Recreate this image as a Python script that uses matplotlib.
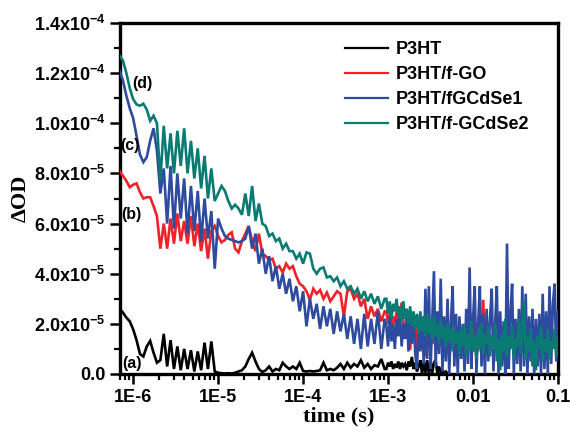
import numpy as np
import matplotlib
matplotlib.use("Agg")
import matplotlib.pyplot as plt
from matplotlib.ticker import FixedLocator, FixedFormatter, LogLocator, NullFormatter

plt.rcParams['font.family'] = ['Liberation Sans', 'DejaVu Sans']
plt.rcParams['mathtext.fontset'] = 'custom'
plt.rcParams['mathtext.rm'] = 'Liberation Sans:bold'
plt.rcParams['mathtext.bf'] = 'Liberation Sans:bold'

# sampling times, log10(t / s)
log_time = [
    -6.16, -6.12, -6.08, -6.04, -6.00, -5.96, -5.92, -5.88, -5.84, -5.80,
    -5.76, -5.72, -5.68, -5.64, -5.60, -5.56, -5.52, -5.48, -5.44, -5.40,
    -5.36, -5.32, -5.28, -5.24, -5.20, -5.16, -5.12, -5.08, -5.04, -5.00,
    -4.96, -4.92, -4.88, -4.84, -4.80, -4.76, -4.72, -4.68, -4.64, -4.60,
    -4.56, -4.52, -4.48, -4.44, -4.40, -4.36, -4.32, -4.28, -4.24, -4.20,
    -4.16, -4.12, -4.08, -4.04, -4.00, -3.96, -3.92, -3.88, -3.84, -3.80,
    -3.76, -3.72, -3.68, -3.64, -3.60, -3.56, -3.52, -3.48, -3.44, -3.40,
    -3.36, -3.32, -3.28, -3.24, -3.20, -3.16, -3.12, -3.08, -3.04,
    -3.02, -3.00, -2.98, -2.96, -2.94, -2.92, -2.90, -2.88, -2.86, -2.84,
    -2.82, -2.80, -2.78, -2.76, -2.74, -2.72, -2.70, -2.68, -2.66, -2.64,
    -2.62, -2.60, -2.58, -2.56, -2.54, -2.52, -2.50, -2.48, -2.46, -2.44,
    -2.42, -2.40, -2.38, -2.36, -2.34, -2.32, -2.30, -2.28, -2.26, -2.24,
    -2.22, -2.20, -2.18, -2.16, -2.14, -2.12, -2.10, -2.08, -2.06, -2.04,
    -2.02, -2.00, -1.98, -1.96, -1.94, -1.92, -1.90, -1.88, -1.86, -1.84,
    -1.82, -1.80, -1.78, -1.76, -1.74, -1.72, -1.70, -1.68, -1.66, -1.64,
    -1.62, -1.60, -1.58, -1.56, -1.54, -1.52, -1.50, -1.48, -1.46, -1.44,
    -1.42, -1.40, -1.38, -1.36, -1.34, -1.32, -1.30, -1.28, -1.26, -1.24,
    -1.22, -1.20, -1.18, -1.16, -1.14, -1.12, -1.10, -1.08, -1.06, -1.04,
    -1.02, -1.00,
]

# Delta OD in units of 1e-5
od_p3ht = [
    2.6, 2.45, 2.25, 2.1, 1.78, 1.35, 0.8, 0.7, 1.1, 1.32,
    0.85, 0.45, 0.55, 1.6, 0.3, 1.35, 0.2, 1.1, 0.15, 1.0,
    0.2, 0.95, 0.1, 0.9, 0.15, 1.25, 0.2, 1.3, 0.1, 0.05,
    0.03, 0.02, 0.03, 0.02, 0.05, 0.1, 0.15, 0.3, 0.6, 0.85,
    0.5, 0.2, 0.08, 0.15, 0.3, 0.1, 0.2, 0.15, 0.45, 0.3,
    0.2, 0.3, 0.2, 0.45, 0.12, 0.1, 0.12, 0.1, 0.12, 0.15,
    0.45, 0.15, 0.2, 0.15, 0.25, 0.4, 0.2, 0.45, 0.25, 0.4,
    0.3, 0.55, 0.25, 0.4, 0.2, 0.35, 0.3, 0.6, 0.2,
    0.2, 0.45, 0.3, 0.5, 0.2, 0.4, 0.25, 0.5, 0.2, 0.45,
    0.3, 0.4, 0.15, 0.5, 0.3, 0.68, 0.2, 0.45, 0.1, 0.3,
    0.55, 0.0, 0.5, 0.05, 0.55, 0.0, 0.5, 0.05, 0.45, 0.56,
    0.0, 0.3, 0.05, 0.15, 0.05, 0.1, 0.02, 0.05,
]

od_fgo = [
    8.1, 7.9, 7.7, 7.45, 7.55, 7.6, 7.25, 7.0, 7.05, 7.05,
    6.7, 6.3, 5.0, 6.0, 5.0, 6.2, 5.2, 6.4, 5.3, 6.1,
    5.2, 6.3, 5.1, 6.0, 4.9, 5.8, 4.6, 5.7, 5.9, 5.5,
    5.25, 5.35, 5.55, 5.65, 5.0, 4.85, 5.3, 5.6, 5.9, 5.3,
    4.9, 5.6, 4.8, 4.7, 4.55, 4.6, 4.2, 4.3, 4.05, 4.4,
    4.2, 4.3, 3.9, 3.6, 3.5, 3.3, 2.96, 3.4, 3.2, 3.35,
    3.0, 3.25, 2.9, 3.1, 3.3, 3.2, 2.3, 3.3, 3.4, 3.0,
    3.2, 2.7, 3.0, 2.2, 2.7, 2.3, 2.6, 2.1, 2.5,
    2.5, 2.0, 2.4, 1.9, 2.3, 2.0, 2.5, 1.8, 2.2, 2.85,
    2.0, 1.5, 2.3, 1.8, 0.96, 2.1, 1.7, 2.2, 0.84, 2.0,
    1.6, 2.1, 1.4, 0.7, 1.9, 1.3, 2.0, 1.2, 1.8, 1.0,
    1.9, 1.3, 1.7, 1.0, 1.8, 1.2, 1.6, 0.9, 1.7, 1.1,
    1.8, 1.0, 1.5, 0.9, 1.7, 1.2, 1.6, 0.8, 1.5, 1.1,
    1.7, 2.44, 1.0, 1.5, 0.9, 1.6, 1.1, 2.96, 1.0, 1.5,
    0.8, 1.6, 1.1, 1.4, 0.9, 1.5, 1.0, 1.6, 0.8, 1.4,
    1.1, 1.5, 0.9, 1.6, 1.0, 1.4, 0.8, 1.5, 1.1, 1.4,
    0.9, 1.5, 1.0, 1.4, 0.8, 1.3, 1.1, 1.5, 0.9, 1.4,
    1.0, 1.3, 0.8, 1.4, 1.0, 1.3, 0.9, 1.4, 1.1, 1.3,
    0.9, 1.2,
]

od_fgcdse1 = [
    12.1, 11.7, 11.1, 10.6, 10.2, 9.5, 8.75, 8.45, 8.65, 9.3,
    9.8, 8.9, 7.2, 8.2, 6.0, 8.3, 5.8, 8.0, 6.2, 7.8,
    5.6, 7.5, 5.7, 7.3, 5.3, 7.0, 5.4, 6.5, 4.2, 6.2,
    5.8, 5.5, 5.4, 5.35, 5.3, 5.25, 5.3, 5.4, 5.9, 5.0,
    5.6, 4.4, 5.0, 4.0, 4.7, 3.7, 4.3, 3.4, 4.0, 3.2,
    3.8, 2.9, 3.5, 2.5, 3.3, 1.9, 3.0, 2.2, 2.8, 1.8,
    2.7, 1.9, 2.6, 1.6, 2.5, 1.7, 2.4, 1.4, 2.3, 1.2,
    2.2, 1.0, 2.4, 1.1, 2.2, 1.2, 2.5, 1.0, 2.2,
    1.9, 1.1, 2.3, 1.3, 2.0, 1.0, 2.2, 1.5, 2.4, 1.1,
    2.0, 1.4, 2.6, 0.9, 2.2, 1.2, 2.4, 0.8, 0.2, 2.1,
    0.9, 2.3, 0.4, 3.4, 0.6, 3.5, 0.2, 2.2, 4.1, 0.3,
    2.5, 0.8, 3.8, 0.1, 2.3, 0.5, 3.0, 0.0, 2.1, 3.5,
    0.3, 2.4, 0.0, 2.3, 0.6, 2.0, 0.1, 2.6, 0.4, 4.25,
    0.2, 2.2, 3.5, 0.0, 2.0, 3.5, 0.3, 2.4, 0.0, 2.6,
    0.5, 2.2, 3.4, 0.1, 2.0, 3.5, 0.0, 2.5, 0.3, 2.1,
    0.0, 5.2, 0.2, 2.4, 3.6, 0.0, 2.2, 0.4, 2.6, 0.1,
    3.5, 0.3, 3.2, 0.0, 2.3, 0.5, 2.6, 0.0, 2.2, 0.3,
    2.4, 0.0, 3.2, 0.2, 2.5, 0.0, 3.5, 0.4, 2.8, 3.6,
    0.5, 2.5,
]

od_fgcdse2 = [
    12.7, 12.5, 12.0, 11.4, 10.96, 10.75, 10.7, 10.78, 10.55, 10.1,
    10.3, 10.0, 7.7, 9.9, 8.2, 9.6, 8.0, 9.7, 8.3, 9.8,
    8.0, 9.3, 7.8, 9.0, 7.4, 8.7, 7.0, 8.2, 6.9, 7.2,
    7.5, 7.3, 6.9, 6.6, 6.75, 6.6, 6.35, 7.2, 6.3, 7.5,
    6.1, 6.8, 6.0, 5.9, 5.5, 5.6, 5.3, 5.4, 5.0, 5.2,
    4.9, 4.9, 4.6, 4.8, 4.4, 4.85, 4.8, 4.2, 4.0, 4.2,
    4.25, 3.85, 3.9, 3.7, 3.85, 3.5, 3.7, 3.4, 3.5, 3.2,
    3.4, 3.0, 3.3, 2.9, 3.2, 2.8, 3.1, 2.6, 3.0,
    3.0, 2.4, 2.9, 2.2, 2.8, 2.5, 3.0, 2.3, 2.7, 2.1,
    2.9, 2.2, 2.6, 2.0, 2.7, 1.9, 2.5, 1.8, 2.4, 1.6,
    2.5, 1.7, 2.3, 1.5, 2.4, 1.6, 2.2, 1.4, 2.3, 1.5,
    2.0, 1.2, 2.2, 1.4, 1.9, 1.1, 2.0, 1.3, 1.8, 0.9,
    1.9, 1.2, 1.7, 0.8, 1.8, 1.1, 2.0, 0.7, 1.6, 1.0,
    2.1, 0.9, 1.5, 0.6, 1.8, 1.0, 2.0, 0.8, 1.6, 1.2,
    1.9, 0.7, 1.5, 1.0, 2.0, 0.5, 1.4, 0.15, 1.6, 0.9,
    2.2, 0.7, 1.5, 1.0, 1.9, 0.6, 1.4, 1.1, 2.2, 0.8,
    1.6, 2.9, 0.6, 1.5, 0.9, 1.8, 0.3, 1.3, 0.15, 1.5,
    1.0, 1.9, 0.5, 1.4, 0.9, 1.8, 0.6, 1.3, 1.0, 1.8,
    0.7, 1.4,
]

series_names = ['P3HT', 'P3HT/f-GO', 'P3HT/fGCdSe1', 'P3HT/f-GCdSe2']
series_colors = ['#000000', '#ee2229', '#2e4b9f', '#0a7b72']
curve_tags = ['(a)', '(b)', '(c)', '(d)']

y_ticks = [0.0, 2e-5, 4e-5, 6e-5, 8e-5, 1.0e-4, 1.2e-4, 1.4e-4]
y_tick_labels = ['0.0', r'$\mathbf{2.0x10^{-5}}$', r'$\mathbf{4.0x10^{-5}}$',
                 r'$\mathbf{6.0x10^{-5}}$', r'$\mathbf{8.0x10^{-5}}$',
                 r'$\mathbf{1.0x10^{-4}}$', r'$\mathbf{1.2x10^{-4}}$',
                 r'$\mathbf{1.4x10^{-4}}$']
x_ticks = [1e-6, 1e-5, 1e-4, 1e-3, 1e-2, 1e-1]
x_tick_labels = ['1E-6', '1E-5', '1E-4', '1E-3', '0.01', '0.1']

fig = plt.figure(figsize=(5.7, 4.34), dpi=100)
ax = fig.add_axes([120/570, 1 - 374/434, 438/570, 351/434])

lt = np.array(log_time)
all_series = [od_p3ht, od_fgo, od_fgcdse1, od_fgcdse2]
for i, (vals, name, col) in enumerate(zip(all_series, series_names, series_colors)):
    n = min(len(vals), len(lt))
    v = np.array(vals[:n]) * 1e-5
    t = 10 ** lt[:n]
    ax.plot(t, v, color=col, lw=1.9, label=name, zorder=2 + i, solid_joinstyle='miter')

ax.set_xscale('log')
ax.set_xlim(7.0e-7, 0.1)
ax.set_ylim(0, 1.4e-4)

ax.xaxis.set_major_locator(FixedLocator(x_ticks))
ax.xaxis.set_major_formatter(FixedFormatter(x_tick_labels))
ax.xaxis.set_minor_locator(LogLocator(base=10, subs=np.arange(2, 10), numticks=20))
ax.xaxis.set_minor_formatter(NullFormatter())
ax.yaxis.set_major_locator(FixedLocator(y_ticks))
ax.yaxis.set_major_formatter(FixedFormatter(y_tick_labels))
ax.yaxis.set_minor_locator(FixedLocator([1e-5, 3e-5, 5e-5, 7e-5, 9e-5, 1.1e-4, 1.3e-4]))

for sp in ax.spines.values():
    sp.set_linewidth(2.4)
ax.tick_params(which='major', direction='out', length=7.5, width=1.8, pad=3,
               labelsize=13, top=False, right=False)
ax.tick_params(which='minor', direction='out', length=4, width=1.6, top=False, right=False)
for lab in ax.get_xticklabels() + ax.get_yticklabels():
    lab.set_fontweight('bold')

ax.set_xlabel('time (s)', family=['Liberation Serif'], fontweight='bold', fontsize=16, labelpad=1)
ax.set_ylabel('ΔOD', family=['Liberation Serif'], fontweight='bold', fontsize=16, labelpad=2)

tag_pos = [(0.027, 0.031), (0.027, 0.453), (0.022, 0.652), (0.050, 0.829)]
for tag, (px, py) in zip(curve_tags, tag_pos):
    ax.text(px, py, tag, transform=ax.transAxes, ha='center', va='center',
            fontsize=11.5, fontweight='bold', zorder=10)

leg = ax.legend(loc='upper left', bbox_to_anchor=(0.514, 0.949), frameon=False,
                handlelength=2.4, handletextpad=0.4, labelspacing=0.45,
                borderpad=0, borderaxespad=0, prop={'weight': 'bold', 'size': 13})
for h in leg.get_lines():
    h.set_linewidth(1.6)

fig.savefig('out.png', dpi=100)
